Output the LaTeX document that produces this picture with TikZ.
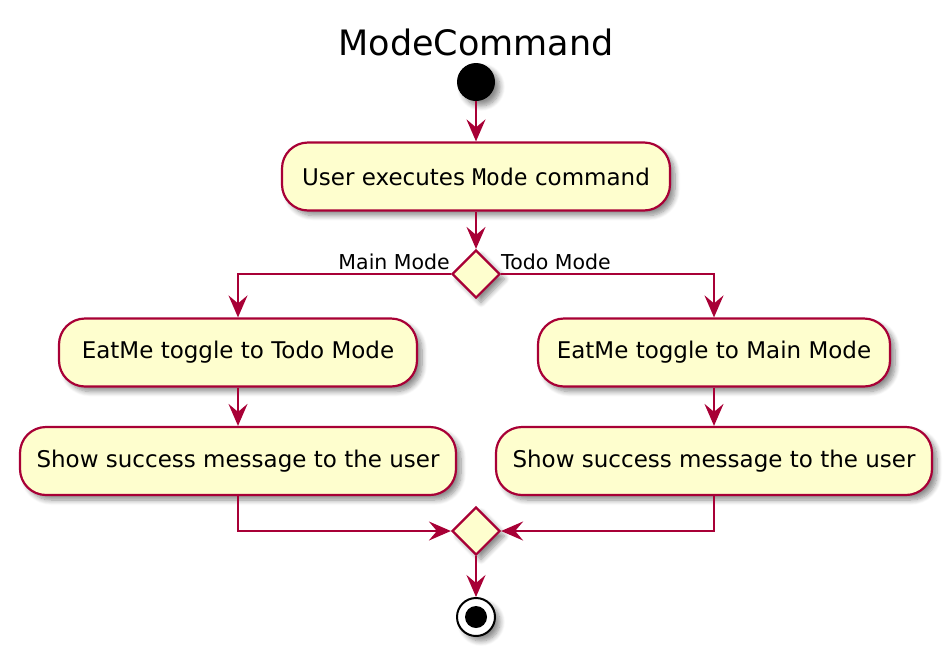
\documentclass[tikz,border=0pt]{standalone}
\usepackage{fontspec}
\setmainfont{DejaVu Sans}
\newfontfamily\monof{DejaVu Sans Mono}
\usetikzlibrary{arrows.meta,shadows.blur,shapes.geometric}
\definecolor{umlred}{HTML}{A80036}
\definecolor{umlfill}{HTML}{FEFECE}
\begin{document}
\begin{tikzpicture}[x=1pt,y=-1pt,
  shad/.style={blur shadow={shadow xshift=5pt,shadow yshift=-5pt,shadow blur steps=8,shadow blur radius=5pt,shadow opacity=45}},
  act/.style={draw=umlred,line width=2.2pt,fill=umlfill,rounded corners=26pt,minimum height=68pt,inner sep=0pt,font=\fontsize{23}{26}\selectfont,shad},
  dec/.style={draw=umlred,line width=2.2pt,fill=umlfill,diamond,aspect=1,minimum width=48pt,minimum height=48pt,inner sep=0pt,shad},
  flow/.style={draw=umlred,line width=2.2pt,-{Stealth[length=22pt,width=19pt,inset=8pt]}},
  lbl/.style={font=\fontsize{20.5}{23}\selectfont,inner sep=0pt}
]
\useasboundingbox (0,0) rectangle (952,659);
\node[font=\fontsize{35}{40}\selectfont] (title) at (476,42) {ModeCommand};
\node[circle,fill=black,minimum size=38pt,inner sep=0pt,shad] (start) at (476,82) {};
\node[act,minimum width=388pt] (a1) at (476,176.5) {User executes {\monof Mode} command};
\node[dec] (d1) at (476,274) {};
\node[act,minimum width=358pt] (a2) at (238,352.5) {EatMe toggle to Todo Mode};
\node[act,minimum width=352pt] (a3) at (714,352.5) {EatMe toggle to Main Mode};
\node[act,minimum width=436pt] (a4) at (238,461) {Show success message to the user};
\node[act,minimum width=436pt] (a5) at (714,461) {Show success message to the user};
\node[dec] (d2) at (476,531) {};
\node[circle,draw=black,line width=2pt,fill=white,minimum size=38pt,inner sep=0pt,shad] (stop) at (476,617) {};
\node[circle,fill=black,minimum size=22pt,inner sep=0pt] (stopin) at (stop.center) {};
\node[lbl,anchor=base east] (lmain) at (450,269.5) {Main Mode};
\node[lbl,anchor=base west] (ltodo) at (501,269.5) {Todo Mode};
\draw[flow] (start) -- (a1);
\draw[flow] (a1) -- (d1);
\draw[flow] (d1.west) -| (a2.north);
\draw[flow] (d1.east) -| (a3.north);
\draw[flow] (a2) -- (a4);
\draw[flow] (a3) -- (a5);
\draw[flow] (a4.south) |- (d2.west);
\draw[flow] (a5.south) |- (d2.east);
\draw[flow] (d2) -- (stop);
\end{tikzpicture}
\end{document}
